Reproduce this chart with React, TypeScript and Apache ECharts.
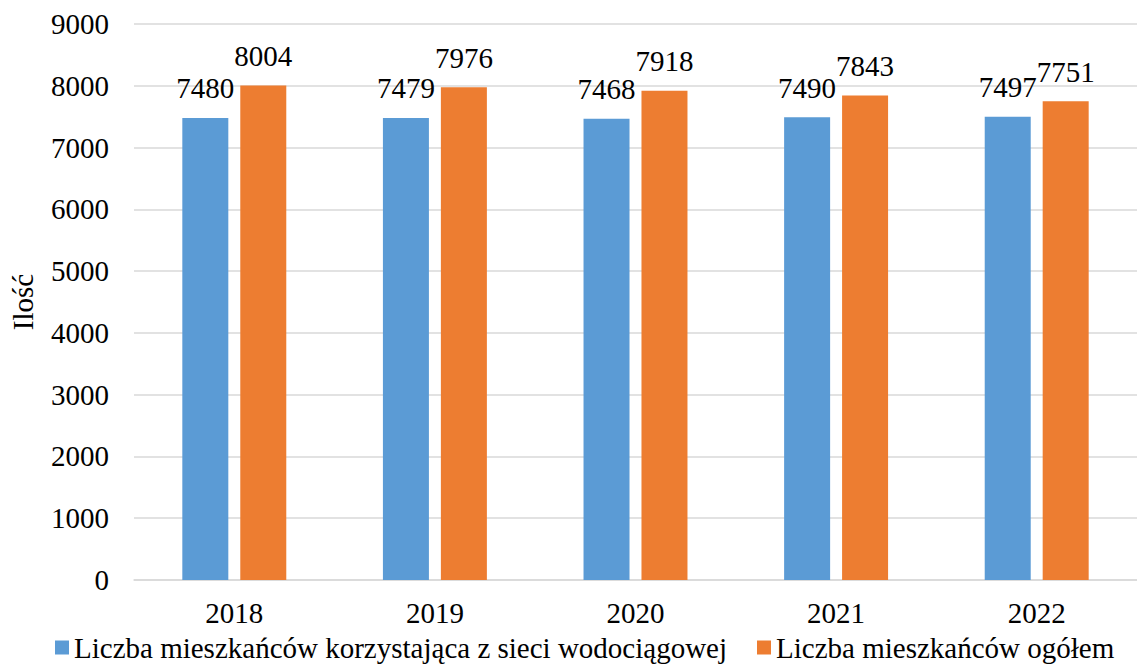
import React, { useEffect, useRef } from "react";
import * as echarts from "echarts";

const categories = ["2018", "2019", "2020", "2021", "2022"];
const waterUsers = [7480, 7479, 7468, 7490, 7497];
const totalResidents = [8004, 7976, 7918, 7843, 7751];
const seriesNames = [
  "Liczba mieszkańców korzystająca z sieci wodociągowej",
  "Liczba mieszkańców ogółem",
];
const yAxisName = "Ilość";

const FONT = "'Liberation Serif', 'Times New Roman', serif";
const FS = 29;

export default function App() {
  const ref = useRef<HTMLDivElement>(null);
  useEffect(() => {
    if (!ref.current) return;
    const chart = echarts.init(ref.current, undefined, { renderer: "svg" });
    const label = {
      show: true,
      position: "top" as const,
      distance: 15,
      color: "#000",
      fontFamily: FONT,
      fontSize: FS,
    };
    chart.setOption({
      animation: false,
      backgroundColor: "#fff",
      textStyle: { fontFamily: FONT },
      grid: { left: 132, right: -7, top: 24, bottom: 84, containLabel: false },
      legend: {
        left: 50,
        bottom: -3,
        itemWidth: 14,
        itemHeight: 14,
        itemGap: 30,
        icon: "rect",
        textStyle: { fontFamily: FONT, fontSize: FS, color: "#000" },
        data: seriesNames,
      },
      xAxis: {
        type: "category",
        data: categories,
        axisLine: { lineStyle: { color: "#d9d9d9", width: 1.5 } },
        axisTick: { show: false },
        axisLabel: { color: "#000", fontFamily: FONT, fontSize: FS, margin: 18 },
      },
      yAxis: {
        type: "value",
        min: 0,
        max: 9000,
        interval: 1000,
        name: yAxisName,
        nameLocation: "middle",
        nameGap: 97,
        nameTextStyle: { color: "#000", fontFamily: FONT, fontSize: FS },
        axisLine: { show: false },
        axisTick: { show: false },
        splitLine: { lineStyle: { color: "#d9d9d9", width: 1.5 } },
        axisLabel: {
          color: "#000",
          fontFamily: FONT,
          fontSize: FS,
          margin: 25,
          formatter: (v: number) => String(v),
        },
      },
      series: [
        {
          name: seriesNames[0],
          type: "bar",
          data: waterUsers,
          barWidth: 46,
          barGap: "26%",
          itemStyle: { color: "#5B9BD5" },
          label,
        },
        {
          name: seriesNames[1],
          type: "bar",
          data: totalResidents,
          barWidth: 46,
          barGap: "26%",
          itemStyle: { color: "#ED7D31" },
          label,
        },
      ],
    });
    return () => chart.dispose();
  }, []);
  return (
    <div
      ref={ref}
      style={{ position: "fixed", left: 0, top: 0, width: 1137, height: 664 }}
    />
  );
}
